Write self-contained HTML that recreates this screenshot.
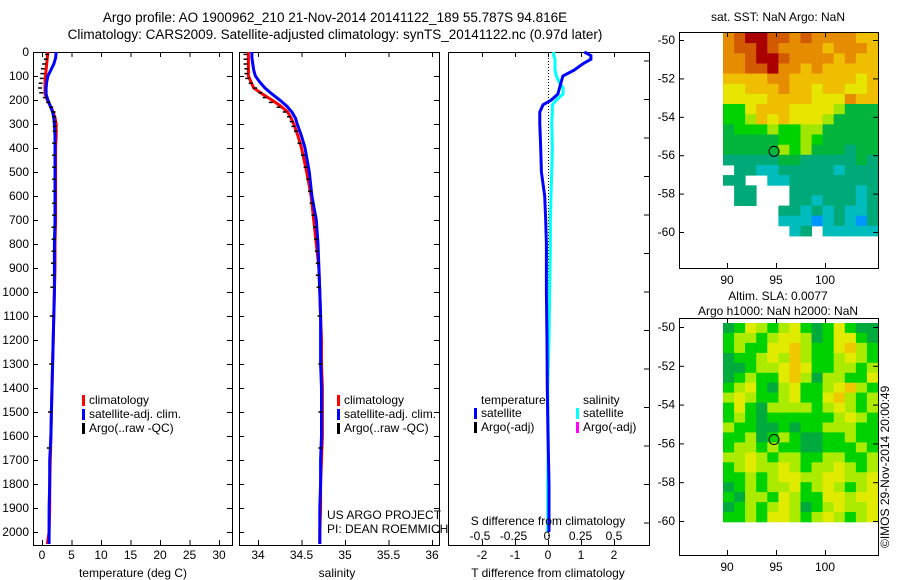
<!DOCTYPE html>
<html><head><meta charset="utf-8"><style>
body{margin:0;background:#fff;width:900px;height:580px;overflow:hidden}
svg{display:block}
text{font-family:"Liberation Sans",sans-serif;font-size:12px;fill:#000}
</style></head><body>
<svg id="fig" width="900" height="580" viewBox="0 0 900 580" xmlns="http://www.w3.org/2000/svg">
<text x="335" y="22" text-anchor="middle" style="font-size:13.5px">Argo profile: AO 1900962_210 21-Nov-2014 20141122_189 55.787S 94.816E</text>
<text x="335" y="39" text-anchor="middle" style="font-size:13.5px">Climatology: CARS2009. Satellite-adjusted climatology: synTS_20141122.nc (0.97d later)</text>
<g id="g"></g>
</svg>
<script>
// ---- profile data ----
const depthT = [0,25,50,75,100,125,150,175,200,225,250,275,300,350,400,500,600,700,800,900,1000,1100,1200,1300,1400,1500,1600,1700,1800,1900,2000,2050];
const tClim = [1.0,0.9,0.8,0.7,0.6,0.5,0.5,0.5,0.9,1.4,1.9,2.2,2.4,2.4,2.3,2.3,2.3,2.3,2.2,2.2,2.1,2.0,1.9,1.8,1.7,1.6,1.5,1.4,1.3,1.3,1.2,0.9];
const tSat = [2.4,2.3,2.0,1.5,1.0,0.8,0.7,0.7,1.0,1.4,1.8,2.0,2.1,2.2,2.2,2.2,2.2,2.2,2.1,2.1,2.1,2.0,1.9,1.8,1.7,1.6,1.5,1.3,1.3,1.2,1.2,1.2];
const depthArgo = [10,30,50,70,90,110,130,150,170,190,210,230,250,270,290,310,330,380,430,480,530,580,630,680,730,780,830,880,930,980,1100,1300,1500,1650];
const tArgo = [1.2,1.0,0.7,0.5,0.4,0.3,0.1,0.0,0.2,0.8,1.4,1.9,2.3,2.4,2.5,2.5,2.5,2.4,2.4,2.4,2.4,2.4,2.4,2.4,2.3,2.3,2.3,2.2,2.2,2.1,2.0,1.9,1.7,1.5];
const sClim = [33.89,33.89,33.89,33.89,33.89,33.92,33.95,34.05,34.16,34.26,34.34,34.38,34.41,34.46,34.50,34.56,34.61,34.64,34.67,34.70,34.71,34.72,34.73,34.73,34.74,34.74,34.74,34.73,34.72,34.72,34.71,34.71];
const sSat = [33.93,33.93,33.94,33.95,33.97,34.02,34.08,34.16,34.25,34.33,34.39,34.43,34.45,34.50,34.54,34.59,34.62,34.67,34.69,34.70,34.71,34.72,34.72,34.72,34.73,34.73,34.73,34.72,34.72,34.71,34.71,34.71];
const sArgo = [33.88,33.88,33.88,33.89,33.89,33.90,33.94,33.99,34.05,34.10,34.17,34.26,34.33,34.38,34.41,34.43,34.46,34.50,34.54,34.57,34.60,34.62,34.64,34.66,34.68,34.69,34.70,34.71,34.71,34.72,34.73,34.74,34.74,34.74];
const depthD = [0,15,30,50,75,100,125,150,175,200,220,250,300,400,500,600,700,800,1000,1200,1400,1600,1800,2000];
const tDiff = [1.1,1.3,1.3,1.05,0.8,0.45,0.4,0.35,0.3,0.1,-0.15,-0.25,-0.25,-0.22,-0.2,-0.1,-0.07,-0.05,-0.05,-0.03,-0.02,0.0,0.03,0.03];
const sDiff = [0.05,0.05,0.06,0.06,0.06,0.07,0.09,0.12,0.12,0.07,0.04,0.04,0.035,0.04,0.035,0.03,0.025,0.025,0.02,0.015,0.005,0.01,0.005,0.005];
const depthTicks = [0,100,200,300,400,500,600,700,800,900,1000,1100,1200,1300,1400,1500,1600,1700,1800,1900,2000];
const tTicks = [0,5,10,15,20,25,30];
const sTicks = [34,34.5,35,35.5,36];
const sTickLabels = ["34","34.5","35","35.5","36"];
const tdTicks = [-2,-1,0,1,2];
const sdTicks = [-0.5,-0.25,0,0.25,0.5];
const sdTickLabels = ["-0.5","-0.25","0","0.25","0.5"];
// ---- map data (colour class index per 0.5deg lat x 1deg lon) ----
const lonTicks = [90,95,100];
const latTicks = [-50,-52,-54,-56,-58,-60];
const sstGrid = [
[8,9,10,10,9,9,8,9,8,8,8,8,7,7],
[8,9,9,10,9,8,8,8,8,7,8,8,8,7],
[8,8,9,10,10,9,8,8,8,8,7,8,7,7],
[8,8,9,9,10,8,8,7,8,7,7,7,7,7],
[7,7,7,7,8,8,7,7,7,7,7,7,6,7],
[6,6,7,7,7,8,7,7,6,7,7,6,6,7],
[6,6,6,6,7,7,7,7,6,6,6,8,7,7],
[4,4,6,7,7,7,6,6,6,6,5,3,3,3],
[4,4,5,7,6,7,6,6,6,5,3,3,3,3],
[3,4,4,4,5,4,4,5,5,3,3,3,3,3],
[3,3,3,3,3,4,4,5,4,3,3,3,3,3],
[3,3,3,3,3,5,4,5,3,3,3,2,3,3],
[2,2,2,2,2,3,3,2,2,2,2,2,3,2],
[null,2,2,1,1,2,2,2,2,2,1,2,2,2],
[2,2,null,null,1,1,2,2,2,2,2,2,2,2],
[null,2,2,null,null,null,2,2,2,2,2,2,1,2],
[null,2,2,null,null,null,2,2,1,2,2,2,1,2],
[null,null,null,null,null,2,2,1,2,1,2,1,1,2],
[null,null,null,null,null,1,1,1,0,1,2,1,0,2],
[null,null,null,null,null,null,1,2,null,1,1,1,1,1]];
const slaGrid = [
[3,4,6,5,4,5,6,4,3,4,6,4,3,3],
[4,5,5,4,5,6,6,5,3,4,6,6,4,3],
[4,5,4,4,6,6,7,5,4,4,6,7,5,4],
[3,4,4,5,6,5,7,5,4,4,5,6,5,4],
[3,3,4,5,5,6,7,6,4,4,5,5,4,5],
[3,4,5,4,4,6,7,5,3,5,5,4,4,6],
[4,5,6,4,3,5,6,4,4,5,6,7,5,4],
[5,6,5,4,4,5,6,4,4,6,7,5,4,5],
[4,6,4,3,5,5,5,5,4,5,6,5,4,5],
[4,5,4,3,4,4,4,4,4,4,5,6,5,4],
[5,4,4,3,3,4,3,4,4,5,5,5,4,4],
[4,4,5,3,4,5,4,3,3,4,4,5,4,4],
[4,5,5,4,5,4,4,3,3,4,4,4,5,4],
[5,5,6,5,4,5,5,4,4,5,5,4,4,5],
[4,5,6,5,5,6,5,4,5,5,6,5,4,5],
[4,4,5,4,5,6,6,5,5,6,6,5,5,6],
[3,4,5,4,5,5,6,4,5,6,5,4,5,6],
[4,3,5,5,4,6,5,4,4,6,6,5,6,6],
[3,4,5,4,5,6,5,3,4,5,6,5,5,6],
[4,4,5,4,6,6,5,4,5,6,5,4,5,6]];
const argoPos = [94.8,-55.8];

const SST_COL=["#0096ff","#00bcbc","#00aa78","#00b43c","#00d200","#a0e600","#e6e600","#f0be00","#e68c00","#d25a00","#aa0000"];
const SLA_COL={3:"#00aa3c",4:"#00d200",5:"#aaeb00",6:"#e1eb00",7:"#f0c800"};

const NS="http://www.w3.org/2000/svg";
const G=document.getElementById('g');
function mk(tag,attrs,parent){const e=document.createElementNS(NS,tag);for(const k in attrs)e.setAttribute(k,attrs[k]);(parent||G).appendChild(e);return e;}
function txt(x,y,s,anchor,parent){const t=mk('text',{x:x,y:y,'text-anchor':anchor||'start'},parent);t.textContent=s;return t;}

const Y0=52,YB=545;
const yD=d=>Y0+d*0.24;
const xT=v=>42+v*5.9;
const xS=v=>258+(v-34)*87;
const xTD=v=>548+v*33;
const xSD=v=>547+v*134;

function panel(name,x1,x2){
  const r=mk('rect',{x:x1+0.5,y:Y0+0.5,width:x2-x1,height:YB-Y0,fill:'none',stroke:'#000','stroke-width':1});
  
  
}
function line(name,xs,ds,xf,col,w){
  const p=mk('polyline',{points:xs.map((v,i)=>xf(v).toFixed(1)+','+yD(ds[i]).toFixed(1)).join(' '),fill:'none',stroke:col,'stroke-width':w});
  
  
}
function argoMarks(name,xs,ds,xf){
  const g=mk('g',{});
  
  
  xs.forEach((v,i)=>{mk('line',{x1:xf(v)-4,x2:xf(v),y1:yD(ds[i]),y2:yD(ds[i]),stroke:'#000','stroke-width':1.5},g);});
}
function xAxis(name,ticks,labels,xf,x1,x2,ly){
  const g=mk('g',{});
  
  
  ticks.forEach((v,i)=>{const x=xf(v)+0.5;
    mk('line',{x1:x,x2:x,y1:Y0,y2:Y0+5,stroke:'#000'},g);
    mk('line',{x1:x,x2:x,y1:YB,y2:YB-5,stroke:'#000'},g);
    txt(xf(v),ly,labels[i],'middle',g);});
}
function legend(name,x,y,items){
  const g=mk('g',{});
  
  
  items.forEach((it,i)=>{mk('rect',{x:x,y:y+i*14-9,width:3,height:11,fill:it[0]},g);txt(x+7,y+i*14,it[1],'start',g);});
}

// y axis
const ya=mk('g',{});


depthTicks.forEach(d=>{const y=yD(d)+0.5;
  mk('line',{x1:33,x2:38,y1:y,y2:y,stroke:'#000'},ya);
  mk('line',{x1:232,x2:227,y1:y,y2:y,stroke:'#000'},ya);
  mk('line',{x1:239,x2:244,y1:y,y2:y,stroke:'#000'},ya);
  mk('line',{x1:439,x2:434,y1:y,y2:y,stroke:'#000'},ya);
  txt(29,yD(d)+4,String(d),'end',ya);});

// panel 1: temperature
panel('temperature-panel',33,232);
xAxis('temperature-x-axis',tTicks,tTicks.map(String),xT,33,232,559);
txt(133,577,'temperature (deg C)','middle');
line('temp-climatology-line',tClim,depthT,xT,'#f00',3);
line('temp-satellite-line',tSat,depthT,xT,'#00f',3);
argoMarks('temp-argo-marks',tArgo,depthArgo,xT);
legend('temperature-legend',82,404,[['#f00','climatology'],['#00f','satellite-adj. clim.'],['#000','Argo(..raw -QC)']]);

// panel 2: salinity
panel('salinity-panel',239,439);
xAxis('salinity-x-axis',sTicks,sTickLabels,xS,239,439,559);
txt(337,577,'salinity','middle');
line('sal-climatology-line',sClim,depthT,xS,'#f00',3);
line('sal-satellite-line',sSat,depthT,xS,'#00f',3);
argoMarks('sal-argo-marks',sArgo,depthArgo,xS);
legend('salinity-legend',337,404,[['#f00','climatology'],['#00f','satellite-adj. clim.'],['#000','Argo(..raw -QC)']]);
txt(327,519,'US ARGO PROJECT');
txt(327,533,'PI: DEAN ROEMMICH');

// panel 3: differences
panel('difference-panel',448,649);
xAxis('t-difference-x-axis',tdTicks,tdTicks.map(String),xTD,448,649,559);
txt(548,577,'T difference from climatology','middle');
const rt=mk('g',{});


for(let y=523;y>Y0;y-=38.5){mk('line',{x1:649,x2:644,y1:y,y2:y,stroke:'#000'},rt);}
const zl=mk('line',{x1:548.5,x2:548.5,y1:Y0,y2:YB,stroke:'#000','stroke-dasharray':'1,2'});


line('s-difference-satellite-line',sDiff,depthD,xSD,'#0ff',3);
line('t-difference-satellite-line',tDiff,depthD,xTD,'#00f',3);
txt(481,404,'temperature');
txt(583,404,'salinity');
legend('t-diff-legend',474,417,[['#00f','satellite'],['#000','Argo(-adj)']]);
legend('s-diff-legend',576,417,[['#0ff','satellite'],['#f0f','Argo(-adj)']]);
txt(548,525,'S difference from climatology','middle');
const sda=mk('g',{});


sdTicks.forEach((v,i)=>txt(xSD(v),540,sdTickLabels[i],'middle',sda));

// maps
function map(name,grid,colf,top,bot,lat50,lat60,gTop,gBot,titleLines,titleY){
  const g=mk('g',{});
  
  
  const L=679,R=878,gL=723,gR=878;
  const xL=lon=>727+(lon-90)*9.8;
  const yL=lat=>lat50+(-50-lat)*(lat60-lat50)/10;
  const nr=grid.length,nc=grid[0].length;
  const cw=(gR-gL)/nc,ch=(gBot-gTop)/nr;
  grid.forEach((row,r)=>row.forEach((v,c)=>{
    if(v===null)return;
    const cell=mk('rect',{x:(gL+c*cw).toFixed(1),y:(gTop+r*ch).toFixed(1),width:(cw+0.4).toFixed(1),height:(ch+0.4).toFixed(1),fill:colf(v)},g);
    
    
  }));
  mk('rect',{x:L+0.5,y:top+0.5,width:R-L,height:bot-top,fill:'none',stroke:'#000'},g);
  lonTicks.forEach(v=>{const x=xL(v)+0.5;
    mk('line',{x1:x,x2:x,y1:top,y2:top+5,stroke:'#000'},g);
    mk('line',{x1:x,x2:x,y1:bot,y2:bot-5,stroke:'#000'},g);
    txt(xL(v),bot+16,String(v),'middle',g);});
  latTicks.forEach(v=>{const y=yL(v)+0.5;
    mk('line',{x1:L,x2:L+5,y1:y,y2:y,stroke:'#000'},g);
    mk('line',{x1:R,x2:R-5,y1:y,y2:y,stroke:'#000'},g);
    txt(675,yL(v)+4,String(v),'end',g);});
  const c=mk('ellipse',{cx:xL(argoPos[0]),cy:yL(argoPos[1]),rx:5,ry:5,fill:'none',stroke:'#000'},g);
  
  
  titleLines.forEach((s,i)=>txt(778,titleY+i*15,s,'middle',g));
}
map('sst-map',sstGrid,v=>SST_COL[v],32,268,40,232,33,236,['sat. SST: NaN Argo: NaN'],21);
map('sla-map',slaGrid,v=>SLA_COL[v],318,555,327,521,323,522,['Altim. SLA: 0.0077','Argo h1000: NaN h2000: NaN'],300);

const cr=txt(0,0,'©IMOS 29-Nov-2014 20:00:49');
cr.setAttribute('transform','translate(889,548) rotate(-90)');


</script>
</body></html>
